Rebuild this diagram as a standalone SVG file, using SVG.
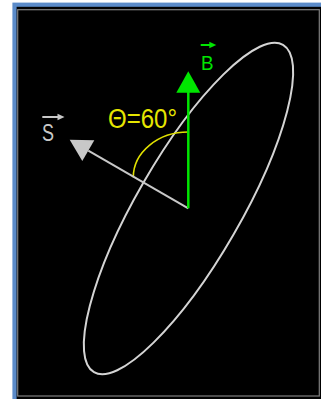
<svg xmlns="http://www.w3.org/2000/svg" width="321" height="399" viewBox="0 0 321 399">
  <style>
    .lbl { font-family: "Liberation Sans", Arial, sans-serif; }
    .gray { stroke: #c8c8c8; }
    .grn { stroke: #00e600; }
  </style>
  <rect x="0" y="0" width="321" height="399" fill="#ffffff"/>
  <!-- frame -->
  <rect x="14.5" y="4.7" width="320" height="410" fill="#000000" stroke="#5b8bc9" stroke-width="4.2"/>
  <rect x="17.7" y="9.7" width="301.6" height="386.3" fill="none" stroke="#7f7f7f" stroke-width="1.2"/>

  <g id="ellipse">
    <ellipse cx="188.5" cy="208.5" rx="52" ry="189" fill="none" stroke="#d4d4d4" stroke-width="2" transform="rotate(30 188.5 208.5)"/>
  </g>

  <g id="angle">
    <path d="M188.3,132 A55,45.3 0 0 0 133.3,177.3" fill="none" stroke="#e0e000" stroke-width="1.6"/>
    <text class="lbl" x="108" y="128" font-size="27" fill="#e6e600" textLength="69" lengthAdjust="spacingAndGlyphs">Θ=60°</text>
  </g>

  <g id="connectors">
    <g id="vecS">
      <line x1="188.3" y1="208.3" x2="88.3" y2="150.6" class="gray" stroke-width="2"/>
      <polygon points="69.7,139.8 94.3,140.2 82.3,161" fill="#c8c8c8"/>
    </g>
    <g id="vecB">
      <line x1="188.3" y1="208.3" x2="188.3" y2="92" class="grn" stroke-width="2.5"/>
      <polygon points="188.3,71.3 176.3,92.8 200.3,92.8" fill="#00e600"/>
    </g>
  </g>

  <g id="labelS">
    <text class="lbl" x="42" y="141" font-size="23" fill="#c8c8c8" textLength="12" lengthAdjust="spacingAndGlyphs">S</text>
    <line x1="42.3" y1="117" x2="59" y2="117" stroke="#c8c8c8" stroke-width="2"/>
    <polygon points="57.5,113.8 64.5,117 57.5,120.2" fill="#c8c8c8"/>
  </g>

  <g id="labelB">
    <text class="lbl" x="201" y="69.5" font-size="21" fill="#00e600" textLength="12.5" lengthAdjust="spacingAndGlyphs">B</text>
    <line x1="200.7" y1="45" x2="211" y2="45" stroke="#00e600" stroke-width="2"/>
    <polygon points="209.3,41.7 216.3,45 209.3,48.3" fill="#00e600"/>
  </g>
</svg>
